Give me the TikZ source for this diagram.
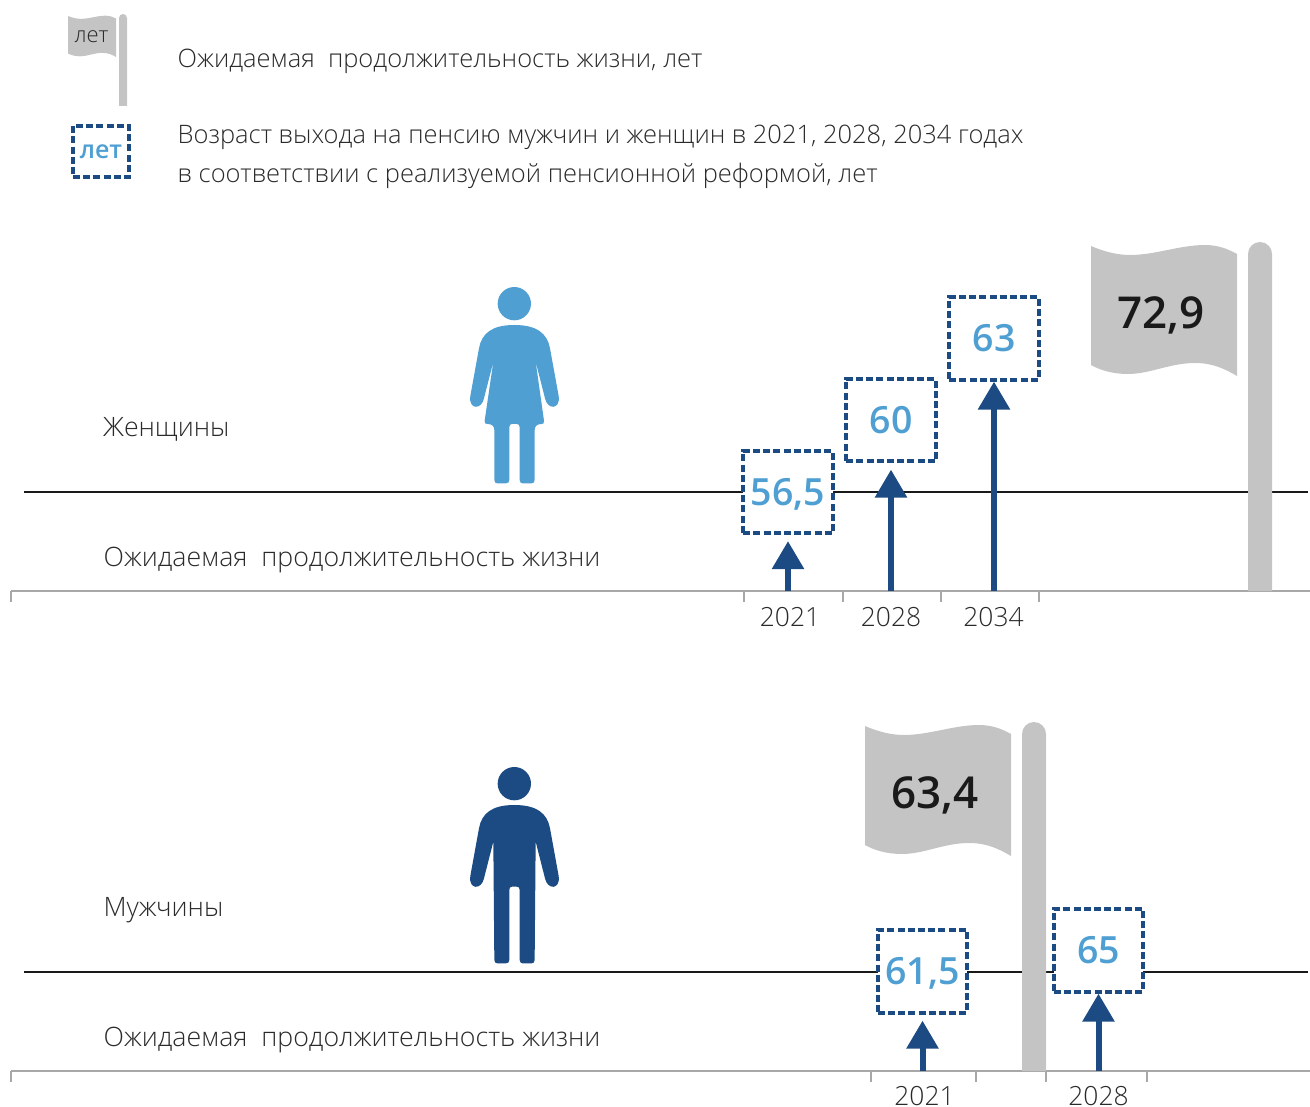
\documentclass[tikz,border=0pt]{standalone}
\usepackage{fontspec}
\setmainfont{Open Sans}[UprightFont=* Light,BoldFont=* Semibold]
\usetikzlibrary{arrows.meta}
\definecolor{lightblue}{HTML}{4F9FD3}
\definecolor{darkblue}{HTML}{1B4B82}
\definecolor{flaggray}{HTML}{C4C4C4}
\definecolor{txt}{HTML}{2A2A2A}
\definecolor{axisgray}{HTML}{A8A8A8}
\definecolor{numblack}{HTML}{1A1A1A}
\newcommand{\flagpath}{(1091,246) .. controls (1105,252) and (1118,255) .. (1130,255)
  .. controls (1155,255) and (1180,245) .. (1205,245)
  .. controls (1218,245) and (1228,249) .. (1237,254)
  -- (1237,376) .. controls (1225,369) and (1213,363) .. (1195,363)
  .. controls (1170,363) and (1150,374) .. (1128,374)
  .. controls (1112,374) and (1100,370) .. (1091,365) -- cycle}
\newcommand{\upperbody}{(223,165) .. controls (290,165) and (322,190) .. (330,235)
  -- (356,378) .. controls (362,420) and (322,420) .. (315,385) -- (287,275)}
\newcommand{\rightleg}{(284,630) .. controls (284,637) and (280,640) .. (275,640) -- (248,640)
  .. controls (243,640) and (239,637) .. (239,630)}
\newcommand{\armleft}{(160,275) -- (132,385) .. controls (125,420) and (85,420) .. (91,378) -- (117,235)
  .. controls (125,190) and (156,165) .. (223,165)}
\newcommand{\bluenum}[1]{\raisebox{-13.3pt}[0pt][0pt]{#1}}
\newcommand{\flagnumtxt}[1]{\raisebox{-15.7pt}[0pt][0pt]{#1}}
\tikzset{
  x=1pt,y=-1pt,
  lbl/.style={anchor=base west,inner sep=0pt,text=txt,font=\fontsize{26.7}{30}\selectfont},
  leglbl/.style={anchor=base west,inner sep=0pt,text=txt,font=\fontsize{25.45}{30}\selectfont},
  yearlbl/.style={anchor=base,inner sep=0pt,text=txt,font=\fontsize{26.4}{30}\selectfont},
  agebox/.style={draw=darkblue,fill=white,line width=3.8pt,dash pattern=on 7pt off 3.2pt,
    inner sep=0pt,minimum width=89.5pt,minimum height=82.5pt,text=lightblue,
    font=\bfseries\fontsize{37.5}{40}\selectfont},
  baseline rule/.style={black!90,line width=2pt},
  axisrule/.style={axisgray,line width=2pt},
  tickrule/.style={axisgray,line width=1.4pt},
  riser/.style={darkblue,line width=6pt,-{Triangle[length=28pt,width=31pt]}},
  grayfill/.style={fill=flaggray,draw=none},
  flagnum/.style={inner sep=0pt,text=numblack,font=\bfseries\fontsize{44}{48}\selectfont},
}
\begin{document}
\begin{tikzpicture}
\useasboundingbox (0,0) rectangle (1310,1107);
% legend
\begin{scope}[shift={(68-1091*0.329,16-246*0.315)},xscale=0.329,yscale=0.315]
  \path[grayfill] \flagpath;
\end{scope}
\path[grayfill] (119,106) -- (119,18) arc[start angle=180,end angle=360,radius=4] -- (127,106) -- cycle;
\node[inner sep=0pt,text=txt,font=\fontsize{22}{24}\selectfont] (legflag) at (91.5,37) {лет};
\node[leglbl] (leg1) at (177.5,67.5) {Ожидаемая~ продолжительность жизни, лет};
\node[agebox,minimum width=56pt,minimum height=51pt,font=\bfseries\fontsize{25}{28}\selectfont] (legbox) at (101,151.5) {лет};
\node[leglbl] (leg2) at (177.5,143.5) {Возраст выхода на пенсию мужчин и женщин в 2021, 2028, 2034 годах};
\node[leglbl] (leg3) at (177.5,182.5) {в соответствии с реализуемой пенсионной реформой, лет};

% women
\coordinate (wl) at (24,492); \coordinate (wr) at (1308,492);
\draw[baseline rule] (wl) -- (wr);
\coordinate (wa) at (11,591); \coordinate (wb) at (1310,591);
\draw[axisrule] (wa) -- (wb);
\foreach \x in {11,744,843,941,1039} \draw[tickrule] (\x,591) -- (\x,602);
\path[grayfill] (1248,591) -- (1248,254) arc[start angle=180,end angle=360,radius=12] -- (1272,591) -- cycle;
\path[grayfill] \flagpath;
\node[flagnum] (wf) at (1161,313) {\flagnumtxt{72,9}};
\node[lbl] (wt) at (103,436) {Женщины};
\node[lbl] (we) at (103.5,566) {Ожидаемая~ продолжительность жизни};
\node[agebox] (w1) at (788,492) {\bluenum{56,5}};
\node[agebox] (w2) at (891,420) {\bluenum{60}};
\node[agebox] (w3) at (994,338.5) {\bluenum{63}};
\coordinate (w1s) at (788,591); \coordinate (w2s) at (891,591); \coordinate (w3s) at (994,591);
\draw[riser,shorten >=6pt] (w1s) -- (w1.south);
\draw[riser,shorten >=6.5pt] (w2s) -- (w2.south);
\draw[riser] (w3s) -- (w3.south);
\node[yearlbl] (wy1) at (790,626) {2021};
\node[yearlbl] (wy2) at (891,626) {2028};
\node[yearlbl] (wy3) at (993.5,626) {2034};
\begin{scope}[shift={(440,270)},x=0.3333pt,y=-0.3333pt]
  \fill[lightblue] (223,101) circle[radius=50*0.3333pt];
  \fill[lightblue] \upperbody -- (312,452) .. controls (313,460) and (310,462) .. (305,462)
    .. controls (292,462) and (284,468) .. (284,480) -- \rightleg -- (239,472)
    .. controls (239,465) and (236,462) .. (230,462) -- (216,462)
    .. controls (211,462) and (208,465) .. (208,472) -- (208,630)
    .. controls (208,637) and (204,640) .. (198,640) -- (172,640)
    .. controls (167,640) and (163,637) .. (163,630) -- (163,480)
    .. controls (163,468) and (155,462) .. (142,462)
    .. controls (136,462) and (133,460) .. (134,452) -- \armleft -- cycle;
\end{scope}

% men
\coordinate (ml) at (24,972); \coordinate (mr) at (1308,972);
\draw[baseline rule] (ml) -- (mr);
\coordinate (ma) at (11,1071); \coordinate (mb) at (1310,1071);
\draw[axisrule] (ma) -- (mb);
\foreach \x in {11,871,976,1046,1147} \draw[tickrule] (\x,1071) -- (\x,1082);
\begin{scope}[shift={(-226,480)}]
  \path[grayfill] (1248,591) -- (1248,254) arc[start angle=180,end angle=360,radius=12] -- (1272,591) -- cycle;
  \path[grayfill] \flagpath;
\end{scope}
\node[flagnum] (mf) at (935,793) {\flagnumtxt{63,4}};
\node[lbl] (mt) at (103.5,916) {Мужчины};
\node[lbl] (me) at (103.5,1046) {Ожидаемая~ продолжительность жизни};
\node[agebox] (m1) at (922.5,971.5) {\bluenum{61,5}};
\node[agebox] (m2) at (1098.5,950.5) {\bluenum{65}};
\coordinate (m1s) at (922.5,1071); \coordinate (m2s) at (1098.5,1071);
\draw[riser,shorten >=6pt] (m1s) -- (m1.south);
\draw[riser] (m2s) -- (m2.south);
\node[yearlbl] (my1) at (924.5,1105.5) {2021};
\node[yearlbl] (my2) at (1098.5,1105.5) {2028};
\begin{scope}[shift={(440,750)},x=0.3333pt,y=-0.3333pt]
  \fill[darkblue] (223,101) circle[radius=50*0.3333pt];
  \fill[darkblue] \upperbody -- (284,630)
    .. controls (284,637) and (280,640) .. (275,640) -- (248,640)
    .. controls (243,640) and (239,637) .. (239,630) -- (239,420)
    .. controls (239,413) and (236,410) .. (230,410) -- (216,410)
    .. controls (211,410) and (208,413) .. (208,420) -- (208,630)
    .. controls (208,637) and (204,640) .. (198,640) -- (172,640)
    .. controls (167,640) and (163,637) .. (163,630) -- \armleft -- cycle;
\end{scope}
\end{tikzpicture}
\end{document}
